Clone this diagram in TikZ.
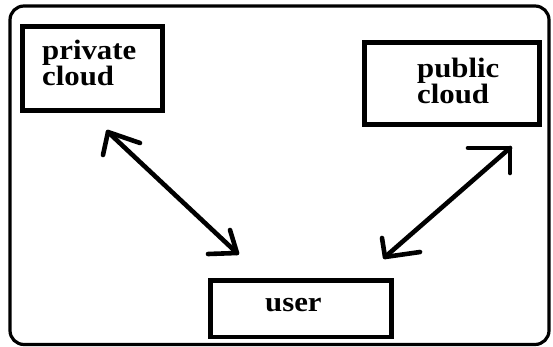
\documentclass[tikz,border=0pt]{standalone}
\usepackage{graphicx}
\usepackage{fontspec}
\setmainfont{Liberation Serif}
\newcommand\mytightlines{\lineskiplimit=-30pt\relax\lineskip=0pt\relax}
\newcommand\wide[1]{\scalebox{1.1}[1]{#1}}
\begin{document}
\begin{tikzpicture}[x=1pt,y=-1pt,
  frame/.style={draw=black,line width=3.2pt,rounded corners=14pt},
  box/.style={draw=black,line width=4.6pt,inner sep=0pt,fill=none},
  lbl/.style={font=\fontsize{28}{26}\selectfont\bfseries\mytightlines,inner sep=0pt,align=left,anchor=base west},
  wire/.style={line width=4.6pt,line cap=round,line join=round}]
\useasboundingbox (0,0) rectangle (553,347);
\fill[white] (0,0) rectangle (553,347);
\draw[frame] (10,6) rectangle (549,344.5);
% boxes
\node[box,minimum width=140pt,minimum height=84pt] (priv) at (92.5,68.5) {};
\node[box,minimum width=175pt,minimum height=82pt] (pub) at (452,83.5) {};
\node[box,minimum width=181pt,minimum height=56.5pt] (user) at (301,308.75) {};
% labels
\node[lbl] (privtxt) at (42,86) {\wide{private}\\\wide{cloud}};
\node[lbl] (pubtxt) at (417,104) {\wide{public}\\\wide{cloud}};
\node[lbl] (usertxt) at (265,311.5) {\wide{user}};
% arrow end points
\coordinate (a1) at (108,132);
\coordinate (a2) at (237,253);
\coordinate (a1l) at (103,155);
\coordinate (a1r) at (140,143);
\coordinate (a2u) at (230,230);
\coordinate (a2l) at (208,254);
\coordinate (b1) at (510,148);
\coordinate (b2) at (385,257);
\coordinate (b1l) at (468,148);
\coordinate (b1d) at (510,173);
\coordinate (b2u) at (382,238);
\coordinate (b2r) at (420,252);
% connectors
\draw[wire] (a1) -- (a2);
\draw[wire] (a1l) -- (a1) -- (a1r);
\draw[wire] (a2u) -- (a2) -- (a2l);
\draw[wire] (b1) -- (b2);
\draw[wire] (b1l) -- (b1) -- (b1d);
\draw[wire] (b2u) -- (b2) -- (b2r);
\end{tikzpicture}
\end{document}
